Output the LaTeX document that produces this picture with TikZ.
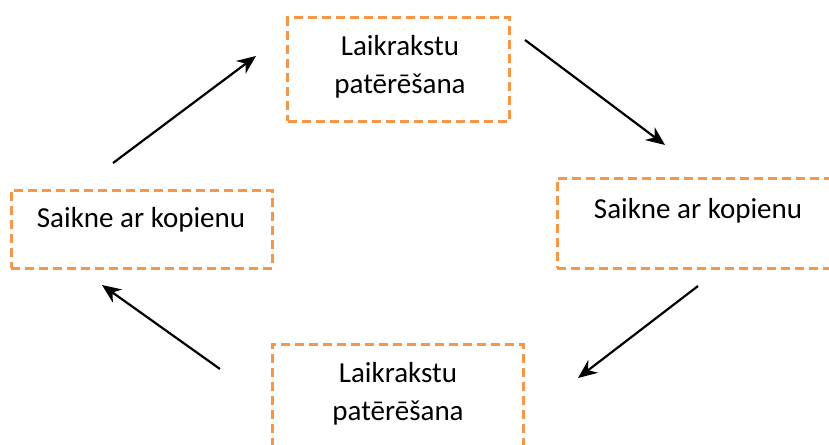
\documentclass[tikz,border=0pt]{standalone}
\usepackage{fontspec}
\setmainfont{Carlito}
\usetikzlibrary{arrows.meta}
\definecolor{boxorange}{HTML}{F79646}
\tikzset{
  dbox/.style={draw=boxorange, line width=3pt, dash pattern=on 9pt off 5pt, rectangle, inner sep=0pt},
  lbl/.style={align=center, font=\fontsize{29}{38}\selectfont, inner sep=0pt},
  flow/.style={line width=2.2pt, -{Stealth[length=19pt,width=16pt]}}
}
\begin{document}
\begin{tikzpicture}[x=1pt,y=-1pt]
\useasboundingbox (0,0) rectangle (829,444);
\clip (0,0) rectangle (829,444);
% boxes
\node[dbox, minimum width=222pt, minimum height=103pt] (topbox) at (398.5,69.5) {};
\node[dbox, minimum width=261pt, minimum height=78pt] (leftbox) at (141.5,229) {};
\node[dbox, minimum width=282pt, minimum height=90pt] (rightbox) at (698,223) {};
\node[dbox, minimum width=251pt, minimum height=104pt] (botbox) at (397.5,396) {};
% labels
\node[lbl] (toptext) at (400,67) {Laikrakstu\\patērēšana};
\node[lbl] (lefttext) at (141,220) {Saikne ar kopienu};
\node[lbl] (righttext) at (698,211) {Saikne ar kopienu};
\node[lbl] (bottext) at (398,394) {Laikrakstu\\patērēšana};
% arrow ends
\coordinate (a1s) at (113,163);
\coordinate (a1e) at (256,56);
\coordinate (a2s) at (525,40);
\coordinate (a2e) at (665,145);
\coordinate (a3s) at (698,286);
\coordinate (a3e) at (578,378);
\coordinate (a4s) at (220,369);
\coordinate (a4e) at (102,285);
\draw[flow] (a1s) -- (a1e);
\draw[flow] (a2s) -- (a2e);
\draw[flow] (a3s) -- (a3e);
\draw[flow] (a4s) -- (a4e);
\end{tikzpicture}
\end{document}
